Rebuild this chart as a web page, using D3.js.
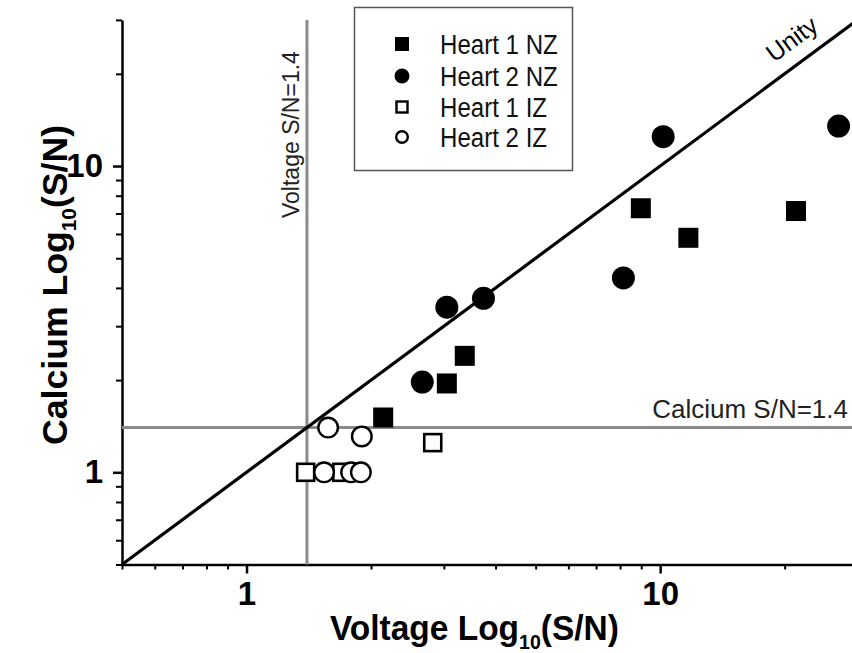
<!DOCTYPE html>
<html>
<head>
<meta charset="utf-8">
<script src="https://cdn.jsdelivr.net/npm/d3@7"></script>
<style>
  body { margin: 0; background: #fff; }
  text { font-family: "Liberation Sans", Arial, sans-serif; }
</style>
</head>
<body>
<div id="chart"></div>
<script>
// values (voltage S/N, calcium S/N)
var heart1NZ = [[2.14, 1.51], [3.05, 1.95], [3.37, 2.40], [8.98, 7.28], [11.7, 5.83], [21.3, 7.13]];
var heart2NZ = [[2.66, 1.97], [3.05, 3.46], [3.74, 3.70], [8.15, 4.31], [10.17, 12.47], [27.0, 13.5]];
var heart1IZ = [[1.39, 1.00], [1.70, 1.00], [2.82, 1.25]];
var heart2IZ = [[1.54, 1.00], [1.79, 1.00], [1.89, 1.00], [1.575, 1.40], [1.90, 1.31]];
var legendLabels = ["Heart 1 NZ", "Heart 2 NZ", "Heart 1 IZ", "Heart 2 IZ"];
var threshold = 1.4;
var axisDomain = [0.5, 30];
var minorTicks = [0.5, 0.6, 0.7, 0.8, 0.9, 2, 3, 4, 5, 6, 7, 8, 9, 20, 30];
var majorTicks = [1, 10];

var width = 852, height = 653;

var svg = d3.select("#chart")
    .append("svg")
    .attr("width", width)
    .attr("height", height);

var x = d3.scaleLog()
    .domain(axisDomain)
    .range([122, 857.5]);

var y = d3.scaleLog()
    .domain(axisDomain)
    .range([564.5, 19.9]);

// minor ticks
svg.append("g")
    .attr("transform", "translate(0," + y.range()[0] + ")")
    .call(d3.axisBottom(x).tickValues(minorTicks).tickSize(5).tickSizeOuter(0).tickFormat(""))
    .call(function(g) { g.select(".domain").attr("stroke-width", 2.5); g.selectAll(".tick line").attr("stroke-width", 2); });

svg.append("g")
    .attr("transform", "translate(" + x.range()[0] + ",0)")
    .call(d3.axisLeft(y).tickValues(minorTicks).tickSize(6).tickSizeOuter(0).tickFormat(""))
    .call(function(g) { g.select(".domain").attr("stroke-width", 2.5); g.selectAll(".tick line").attr("stroke-width", 2); });

// major ticks with labels
var xMajor = svg.append("g")
    .attr("transform", "translate(0," + y.range()[0] + ")")
    .call(d3.axisBottom(x).tickValues(majorTicks).tickSize(9).tickPadding(8).tickFormat(d3.format("d")));
xMajor.select(".domain").remove();
xMajor.selectAll(".tick line").attr("stroke-width", 2.5);
xMajor.selectAll("text").attr("font-size", 33).attr("font-weight", "bold").attr("fill", "#000")
    .attr("font-family", "Liberation Sans, Arial, sans-serif");

var yMajor = svg.append("g")
    .attr("transform", "translate(" + x.range()[0] + ",0)")
    .call(d3.axisLeft(y).tickValues(majorTicks).tickSize(9).tickPadding(10).tickFormat(d3.format("d")));
yMajor.select(".domain").remove();
yMajor.selectAll(".tick line").attr("stroke-width", 2.5);
yMajor.selectAll("text").attr("font-size", 33).attr("font-weight", "bold").attr("fill", "#000")
    .attr("font-family", "Liberation Sans, Arial, sans-serif");

// axis titles (slightly condensed, like the original)
function title(g, label) {
    g.append("tspan").text(label);
    g.append("tspan").attr("font-size", 21).attr("dy", 9).text("10");
    g.append("tspan").attr("dy", -9).text("(S/N)");
}

title(svg.append("text")
    .attr("transform", "translate(330,640) scale(0.93,1)")
    .attr("font-size", 36)
    .attr("font-weight", "bold"), "Voltage Log");

title(svg.append("text")
    .attr("transform", "translate(67,445) rotate(-90) scale(0.99,1)")
    .attr("font-size", 36)
    .attr("font-weight", "bold"), "Calcium Log");

// threshold lines
svg.append("line")
    .attr("x1", x(threshold)).attr("x2", x(threshold))
    .attr("y1", y.range()[0]).attr("y2", y.range()[1])
    .attr("stroke", "#8a8a8a").attr("stroke-width", 3);

svg.append("line")
    .attr("x1", x.range()[0]).attr("x2", x.range()[1])
    .attr("y1", y(threshold)).attr("y2", y(threshold))
    .attr("stroke", "#8a8a8a").attr("stroke-width", 3);

svg.append("text")
    .attr("transform", "translate(" + (x(threshold) - 8) + ",218) rotate(-90)")
    .attr("font-size", 23)
    .attr("fill", "#222")
    .text("Voltage S/N=" + threshold);

svg.append("text")
    .attr("x", 848)
    .attr("y", y(threshold) - 10)
    .attr("text-anchor", "end")
    .attr("font-size", 26)
    .attr("fill", "#222")
    .text("Calcium S/N=" + threshold);

// unity line
svg.append("line")
    .attr("x1", x(axisDomain[0])).attr("y1", y(axisDomain[0]))
    .attr("x2", x(axisDomain[1])).attr("y2", y(axisDomain[1]))
    .attr("stroke", "#000").attr("stroke-width", 3.2);

var ang = Math.atan2(y(axisDomain[1]) - y(axisDomain[0]), x(axisDomain[1]) - x(axisDomain[0]));
var ux = x(22.5) + Math.sin(ang) * 15, uy = y(22.5) - Math.cos(ang) * 15;
svg.append("text")
    .attr("transform", "translate(" + ux + "," + uy + ") rotate(" + (ang * 180 / Math.PI) + ")")
    .attr("text-anchor", "middle")
    .attr("font-size", 25)
    .text("Unity");

// points
svg.append("g").selectAll("rect")
    .data(heart1IZ)
    .join("rect")
    .attr("x", function(d) { return x(d[0]) - 8.5; })
    .attr("y", function(d) { return y(d[1]) - 8.5; })
    .attr("width", 17).attr("height", 17)
    .attr("fill", "#fff").attr("stroke", "#000").attr("stroke-width", 2.6);

svg.append("g").selectAll("circle")
    .data(heart2IZ)
    .join("circle")
    .attr("cx", function(d) { return x(d[0]); })
    .attr("cy", function(d) { return y(d[1]); })
    .attr("r", 9.8)
    .attr("fill", "#fff").attr("stroke", "#000").attr("stroke-width", 2.4);

svg.append("g").selectAll("rect")
    .data(heart1NZ)
    .join("rect")
    .attr("x", function(d) { return x(d[0]) - 10; })
    .attr("y", function(d) { return y(d[1]) - 10; })
    .attr("width", 20).attr("height", 20)
    .attr("fill", "#000");

svg.append("g").selectAll("circle")
    .data(heart2NZ)
    .join("circle")
    .attr("cx", function(d) { return x(d[0]); })
    .attr("cy", function(d) { return y(d[1]); })
    .attr("r", 11.5)
    .attr("fill", "#000");

// legend
var legend = svg.append("g");
legend.append("rect")
    .attr("x", 354.5).attr("y", 7.5)
    .attr("width", 218).attr("height", 163)
    .attr("fill", "#fff").attr("stroke", "#555").attr("stroke-width", 1.5);

var rowY = [44, 76, 107, 137];
var mx = 402;
legend.append("rect").attr("x", mx - 7).attr("y", rowY[0] - 7).attr("width", 14).attr("height", 14).attr("fill", "#000");
legend.append("circle").attr("cx", mx).attr("cy", rowY[1]).attr("r", 7.5).attr("fill", "#000");
legend.append("rect").attr("x", mx - 5.5).attr("y", rowY[2] - 5.5).attr("width", 11).attr("height", 11)
    .attr("fill", "#fff").attr("stroke", "#000").attr("stroke-width", 2.4);
legend.append("circle").attr("cx", mx).attr("cy", rowY[3]).attr("r", 5.8)
    .attr("fill", "#fff").attr("stroke", "#000").attr("stroke-width", 2.4);

legend.selectAll("text.lab")
    .data(legendLabels)
    .join("text")
    .attr("class", "lab")
    .attr("transform", function(d, i) { return "translate(440," + (rowY[i] + 10) + ") scale(0.86,1)"; })
    .attr("font-size", 28)
    .attr("fill", "#111")
    .text(function(d) { return d; });
</script>
</body>
</html>
